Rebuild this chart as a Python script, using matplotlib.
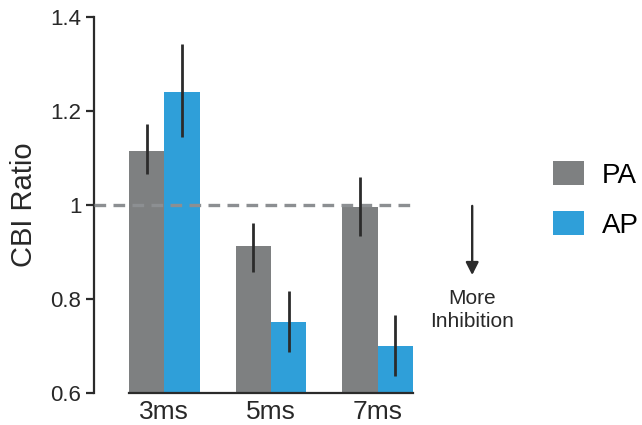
import numpy as np
import matplotlib
matplotlib.use("Agg")
import matplotlib.pyplot as plt

plt.rcParams['font.family'] = ['Liberation Sans', 'DejaVu Sans']

# data
delays = ["3ms", "5ms", "7ms"]
pa_mean = [1.115, 0.913, 0.996]
pa_lo = [1.067, 0.858, 0.933]
pa_hi = [1.172, 0.962, 1.060]
ap_mean = [1.240, 0.752, 0.700]
ap_lo = [1.144, 0.688, 0.636]
ap_hi = [1.342, 0.818, 0.767]

gray = "#7e8081"
blue = "#2f9fd9"
dark = "#2b2b2b"
txt = "#282828"

fig = plt.figure(figsize=(6.42, 4.25), dpi=100)
ax = fig.add_axes([94 / 642, 32 / 425, 319 / 642, 376 / 425])

x = np.arange(len(delays))
w = 0.332
pa_err = [np.array(pa_mean) - np.array(pa_lo), np.array(pa_hi) - np.array(pa_mean)]
ap_err = [np.array(ap_mean) - np.array(ap_lo), np.array(ap_hi) - np.array(ap_mean)]

b1 = ax.bar(x - w / 2, np.array(pa_mean) - 0.6, w, bottom=0.6, color=gray, label="PA", zorder=2)
b2 = ax.bar(x + w / 2, np.array(ap_mean) - 0.6, w, bottom=0.6, color=blue, label="AP", zorder=2)

# dashed reference line, drawn over the bars
ax.axhline(1.0, color="#8c8f92", lw=2.4, ls=(0, (3.5, 2.2)), zorder=3)

ax.errorbar(x - w / 2, pa_mean, yerr=pa_err, fmt="none", ecolor=dark, elinewidth=2.0, capsize=0, zorder=4)
ax.errorbar(x + w / 2, ap_mean, yerr=ap_err, fmt="none", ecolor=dark, elinewidth=2.0, capsize=0, zorder=4)

ax.set_xlim(-0.659, 2.332)
ax.set_ylim(0.6, 1.4)
ax.set_yticks([0.6, 0.8, 1.0, 1.2, 1.4])
ax.set_yticklabels(["0.6", "0.8", "1", "1.2", "1.4"])
ax.set_xticks(x)
ax.set_xticklabels(delays)
ax.set_ylabel("CBI Ratio", fontsize=21, color=txt, labelpad=9)

for s in ["top", "right"]:
    ax.spines[s].set_visible(False)
ax.spines["left"].set_linewidth(1.6)
ax.spines["left"].set_color(dark)
ax.spines["bottom"].set_linewidth(1.6)
ax.spines["bottom"].set_color(dark)
ax.spines["bottom"].set_bounds(-w, 2 + w)
ax.tick_params(axis="y", length=6, width=1.6, color=dark, labelsize=16, labelcolor=txt, pad=3)
ax.tick_params(axis="x", length=0, labelsize=19, labelcolor=txt, pad=5)

# arrow and note
ax.annotate("", xy=(2.887, 0.845), xytext=(2.887, 1.004), xycoords="data",
            arrowprops=dict(arrowstyle="-|>,head_width=0.38,head_length=0.75", color=dark, lw=1.7),
            annotation_clip=False)
ax.text(2.887, 0.777, "More\nInhibition", ha="center", va="center", fontsize=15,
        color=txt, linespacing=1.3, clip_on=False)

fig.legend(handles=[b1, b2], labels=["PA", "AP"], loc="upper left",
           bbox_to_anchor=(553 / 642, 1 - 161 / 425), frameon=False, fontsize=20,
           borderpad=0, borderaxespad=0,
           handlelength=1.11, handleheight=0.97, handletextpad=0.65, labelspacing=0.8)

fig.savefig("out.png", dpi=100)
